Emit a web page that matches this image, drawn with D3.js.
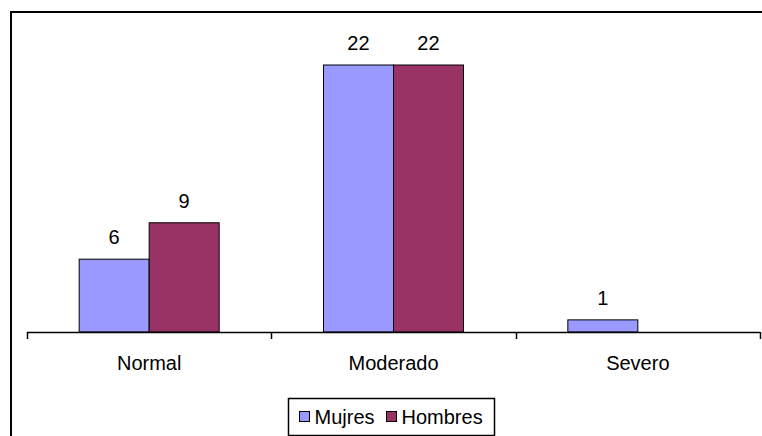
<!DOCTYPE html>
<html>
<head>
<meta charset="utf-8">
<script src="https://cdn.jsdelivr.net/npm/d3@7"></script>
<style>
  html, body { margin: 0; padding: 0; background: #fff; }
  svg { display: block; font-family: "Liberation Sans", Arial, sans-serif; }
</style>
</head>
<body>
<svg id="chart" width="762" height="436"></svg>
<script>
// Categories and series
const categories = ["Normal", "Moderado", "Severo"];
const seriesNames = ["Mujres", "Hombres"];
const mujres = [6, 22, 1];
const hombres = [9, 22, 0];
const seriesColors = ["#9999FF", "#993366"];

const svg = d3.select("#chart");
const W = 762, H = 436;

// Outer frame of the chart area (extends past the visible window)
svg.append("rect")
  .attr("x", 11).attr("y", 12)
  .attr("width", W + 20).attr("height", H + 20)
  .attr("fill", "#fff")
  .attr("stroke", "#000")
  .attr("stroke-width", 2);

const plot = { left: 27, right: 760, bottom: 332 };

const x = d3.scaleBand()
  .domain(categories)
  .range([plot.left, plot.right])
  .paddingInner(0.427)
  .paddingOuter(0.2135);

const x1 = d3.scaleBand()
  .domain(seriesNames)
  .range([0, x.bandwidth()]);

const y = d3.scaleLinear()
  .domain([0, 25])
  .range([plot.bottom, plot.bottom - 25 * 12.136]);

const rows = categories.map((c, i) => ({ cat: c, values: [mujres[i], hombres[i]] }));

// Bars
const groups = svg.append("g").selectAll("g")
  .data(rows).join("g")
  .attr("transform", d => `translate(${x(d.cat)},0)`);

groups.selectAll("rect")
  .data(d => d.values.map((v, j) => ({ name: seriesNames[j], v, color: seriesColors[j] })).filter(e => e.v > 0))
  .join("rect")
  .attr("x", d => x1(d.name))
  .attr("y", d => y(d.v))
  .attr("width", x1.bandwidth())
  .attr("height", d => y(0) - y(d.v))
  .attr("fill", d => d.color)
  .attr("stroke", "#000")
  .attr("stroke-width", 1);

// Value labels
groups.selectAll("text")
  .data(d => d.values.map((v, j) => ({ name: seriesNames[j], v })).filter(e => e.v > 0))
  .join("text")
  .attr("x", d => x1(d.name) + x1.bandwidth() / 2)
  .attr("y", d => y(d.v) - 15)
  .attr("text-anchor", "middle")
  .attr("font-size", 20)
  .attr("fill", "#000")
  .text(d => d.v);

// Category axis: labels centred on groups
const axis = svg.append("g")
  .attr("transform", `translate(0,${plot.bottom})`)
  .call(d3.axisBottom(x).tickSize(0).tickPadding(24));
axis.select(".domain").remove();
axis.selectAll("text")
  .attr("font-size", 20)
  .attr("font-family", "Liberation Sans, Arial, sans-serif")
  .attr("fill", "#000");

// Axis line and boundary ticks between categories
svg.append("line")
  .attr("x1", plot.left).attr("x2", plot.right)
  .attr("y1", plot.bottom + 0.5).attr("y2", plot.bottom + 0.5)
  .attr("stroke", "#000").attr("stroke-width", 1.5);

const boundaries = d3.range(categories.length + 1)
  .map(i => plot.left + i * x.step());
svg.append("g").selectAll("line")
  .data(boundaries).join("line")
  .attr("x1", d => Math.round(d) + 0.5).attr("x2", d => Math.round(d) + 0.5)
  .attr("y1", plot.bottom).attr("y2", plot.bottom + 7)
  .attr("stroke", "#000").attr("stroke-width", 1.5);

// Legend
const legend = svg.append("g");
legend.append("rect")
  .attr("x", 288.5).attr("y", 398.5)
  .attr("width", 206).attr("height", 37)
  .attr("fill", "#fff").attr("stroke", "#000").attr("stroke-width", 1.5);

const legendX = [299.5, 386.5];
seriesNames.forEach((name, j) => {
  legend.append("rect")
    .attr("x", legendX[j]).attr("y", 411.5)
    .attr("width", 10).attr("height", 10)
    .attr("fill", seriesColors[j]).attr("stroke", "#000").attr("stroke-width", 1);
  legend.append("text")
    .attr("x", legendX[j] + 15).attr("y", 424)
    .attr("font-size", 20)
    .attr("fill", "#000")
    .text(name);
});
</script>
</body>
</html>
